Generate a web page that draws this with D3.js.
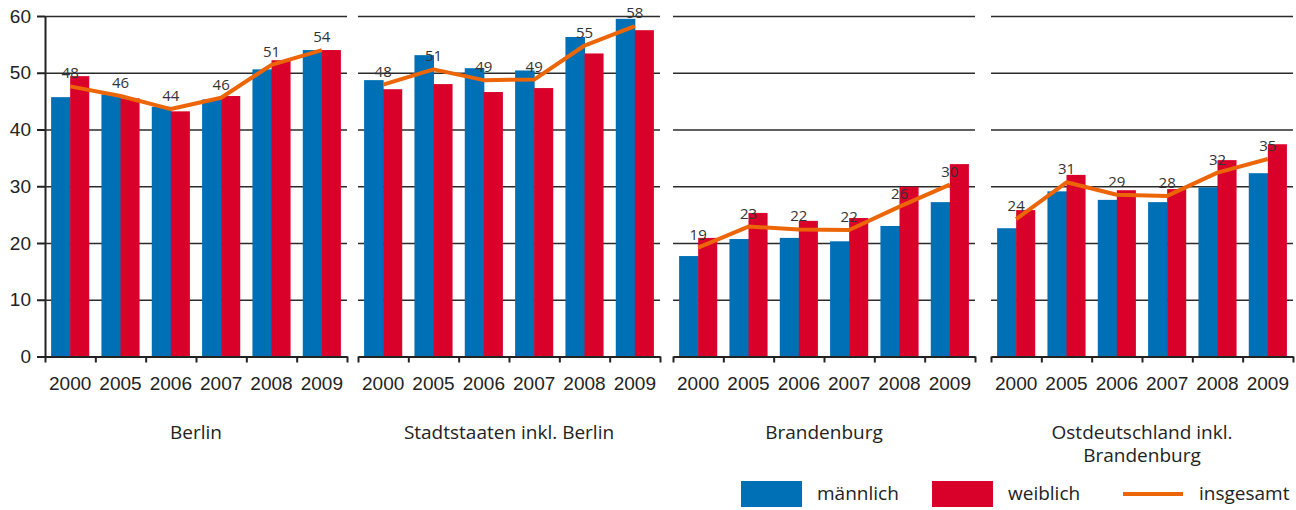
<!DOCTYPE html>
<html>
<head>
<meta charset="utf-8">
<script src="https://cdnjs.cloudflare.com/ajax/libs/d3/7.8.5/d3.min.js"></script>
<style>
    body { margin: 0; background: #fff; }
    svg { display: block; font-family: 'Open Sans', 'Noto Sans', sans-serif; }
    .axis text { fill: #222; }
    .grid line { stroke: #2b2b2b; stroke-width: 1.6; }
    .grid .domain { display: none; }
</style>
</head>
<body>
<svg id="chart"></svg>
<script>
//DATA
var years = ['2000', '2005', '2006', '2007', '2008', '2009'];
var regions = [['Berlin'], ['Stadtstaaten inkl. Berlin'], ['Brandenburg'], ['Ostdeutschland inkl.', 'Brandenburg']];
var maennlich = [
    [45.7, 46.2, 44.0, 45.3, 50.6, 54.0],
    [48.7, 53.1, 50.8, 50.4, 56.3, 59.5],
    [17.7, 20.7, 20.9, 20.3, 23.0, 27.2],
    [22.6, 29.1, 27.6, 27.2, 29.8, 32.3]
];
var weiblich = [
    [49.4, 45.5, 43.2, 45.9, 52.2, 54.0],
    [47.1, 48.0, 46.6, 47.3, 53.4, 57.5],
    [20.9, 25.3, 23.9, 24.4, 29.9, 33.9],
    [25.8, 32.0, 29.3, 29.5, 34.6, 37.4]
];
var insgesamt = [
    [47.6, 45.9, 43.6, 45.6, 51.4, 54.0],
    [47.9, 50.6, 48.7, 48.8, 54.8, 58.2],
    [19.2, 22.9, 22.4, 22.3, 26.4, 30.3],
    [24.2, 30.7, 28.5, 28.3, 32.4, 34.8]
];
var yTicks = [0, 10, 20, 30, 40, 50, 60];
var legendItems = ['männlich', 'weiblich', 'insgesamt'];

function drawChart() {
    //chart parameters
    var svg = d3.select('#chart')
        .attr('width', 1296)
        .attr('height', 510);

    var colors = {m: '#0070b6', w: '#d9002a', t: '#ec6608'};

    //panel layout
    var panelX = [45, 358, 673, 991],
        panelWidth = 302;

    //define scales
    var yScale = d3.scaleLinear().domain([0, 60]).range([356.5, 16]);
    var x0 = d3.scaleBand().domain(years).range([0, panelWidth]);
    var x1 = d3.scaleBand().domain(['m', 'w']).range([0, x0.bandwidth()]).paddingOuter(0.32);
    var xEdge = d3.scaleLinear().domain([0, years.length]).range([0, panelWidth]);

    //y axis on the first panel
    svg.append('g')
        .attr('class', 'axis axis-y')
        .attr('transform', 'translate(' + panelX[0] + ',0)')
        .call(d3.axisLeft(yScale)
            .tickValues(yTicks)
            .tickSizeInner(8)
            .tickSizeOuter(0)
            .tickPadding(6))
        .call(g => g.selectAll('line, path').attr('stroke', '#222').attr('stroke-width', 2))
        .call(g => g.selectAll('text').style('font-size', '19px'));

    //line generator for totals
    var line = d3.line()
        .x((d, i) => x0(years[i]) + x0.bandwidth() / 2)
        .y(d => yScale(d));

    regions.forEach((region, p) => {
        var canvas = svg.append('g')
            .attr('class', 'panel')
            .attr('transform', 'translate(' + panelX[p] + ',0)');

        //gridlines
        canvas.append('g')
            .attr('class', 'grid')
            .call(d3.axisLeft(yScale)
                .tickValues(yTicks.slice(1))
                .tickSize(-panelWidth)
                .tickFormat(''));

        //bars
        var groups = canvas.selectAll('.year').data(years)
            .enter().append('g')
                .attr('class', 'year')
                .attr('transform', d => 'translate(' + x0(d) + ',0)');

        groups.append('rect')
            .attr('x', x1('m'))
            .attr('y', (d, i) => yScale(maennlich[p][i]))
            .attr('width', x1.bandwidth() + 0.5)
            .attr('height', (d, i) => yScale(0) - yScale(maennlich[p][i]))
            .style('fill', colors.m);

        groups.append('rect')
            .attr('x', x1('w'))
            .attr('y', (d, i) => yScale(weiblich[p][i]))
            .attr('width', x1.bandwidth())
            .attr('height', (d, i) => yScale(0) - yScale(weiblich[p][i]))
            .style('fill', colors.w);

        //total line
        canvas.append('path')
            .datum(insgesamt[p])
            .attr('d', line)
            .attr('fill', 'none')
            .attr('stroke', colors.t)
            .attr('stroke-width', 4)
            .attr('stroke-linejoin', 'round');

        //value labels
        canvas.selectAll('.value').data(insgesamt[p])
            .enter().append('text')
                .attr('class', 'value')
                .attr('x', (d, i) => x0(years[i]) + x0.bandwidth() / 2)
                .attr('y', d => yScale(d) - 8)
                .attr('text-anchor', 'middle')
                .style('font-size', '15px')
                .style('fill', '#333')
                .text(d => Math.round(d));

        //x axis with ticks between categories
        canvas.append('g')
            .attr('class', 'axis axis-x')
            .attr('transform', 'translate(0,' + yScale(0) + ')')
            .call(d3.axisBottom(xEdge)
                .tickValues(d3.range(years.length + 1))
                .tickSizeInner(6)
                .tickSizeOuter(0)
                .tickFormat(''))
            .call(g => g.selectAll('line, path').attr('stroke', '#222').attr('stroke-width', 2));

        //year labels
        canvas.append('g')
            .attr('class', 'axis axis-labels')
            .attr('transform', 'translate(0,' + yScale(0) + ')')
            .call(d3.axisBottom(x0).tickSize(0).tickPadding(20))
            .call(g => g.select('.domain').remove())
            .call(g => g.selectAll('text').style('font-size', '19px'));

        //panel title
        canvas.append('text')
            .attr('x', panelWidth / 2)
            .attr('y', 439)
            .attr('text-anchor', 'middle')
            .style('font-size', '19px')
            .style('fill', '#222')
            .selectAll('tspan').data(region)
            .enter().append('tspan')
                .attr('x', panelWidth / 2)
                .attr('dy', (d, i) => i ? 23 : 0)
                .text(d => d);
    });

    //legend
    var legend = svg.append('g').attr('class', 'legend');
    var legendX = [741, 932, 1123];

    legend.append('rect')
        .attr('x', legendX[0]).attr('y', 481)
        .attr('width', 61).attr('height', 26)
        .style('fill', colors.m);

    legend.append('rect')
        .attr('x', legendX[1]).attr('y', 481)
        .attr('width', 61).attr('height', 26)
        .style('fill', colors.w);

    legend.append('line')
        .attr('x1', legendX[2]).attr('x2', legendX[2] + 60)
        .attr('y1', 494).attr('y2', 494)
        .attr('stroke', colors.t)
        .attr('stroke-width', 4);

    legend.selectAll('.legend-label').data(legendItems)
        .enter().append('text')
            .attr('class', 'legend-label')
            .attr('x', (d, i) => legendX[i] + 76)
            .attr('y', 500)
            .style('font-size', '19px')
            .style('fill', '#222')
            .text(d => d);
}

drawChart();
</script>
</body>
</html>
